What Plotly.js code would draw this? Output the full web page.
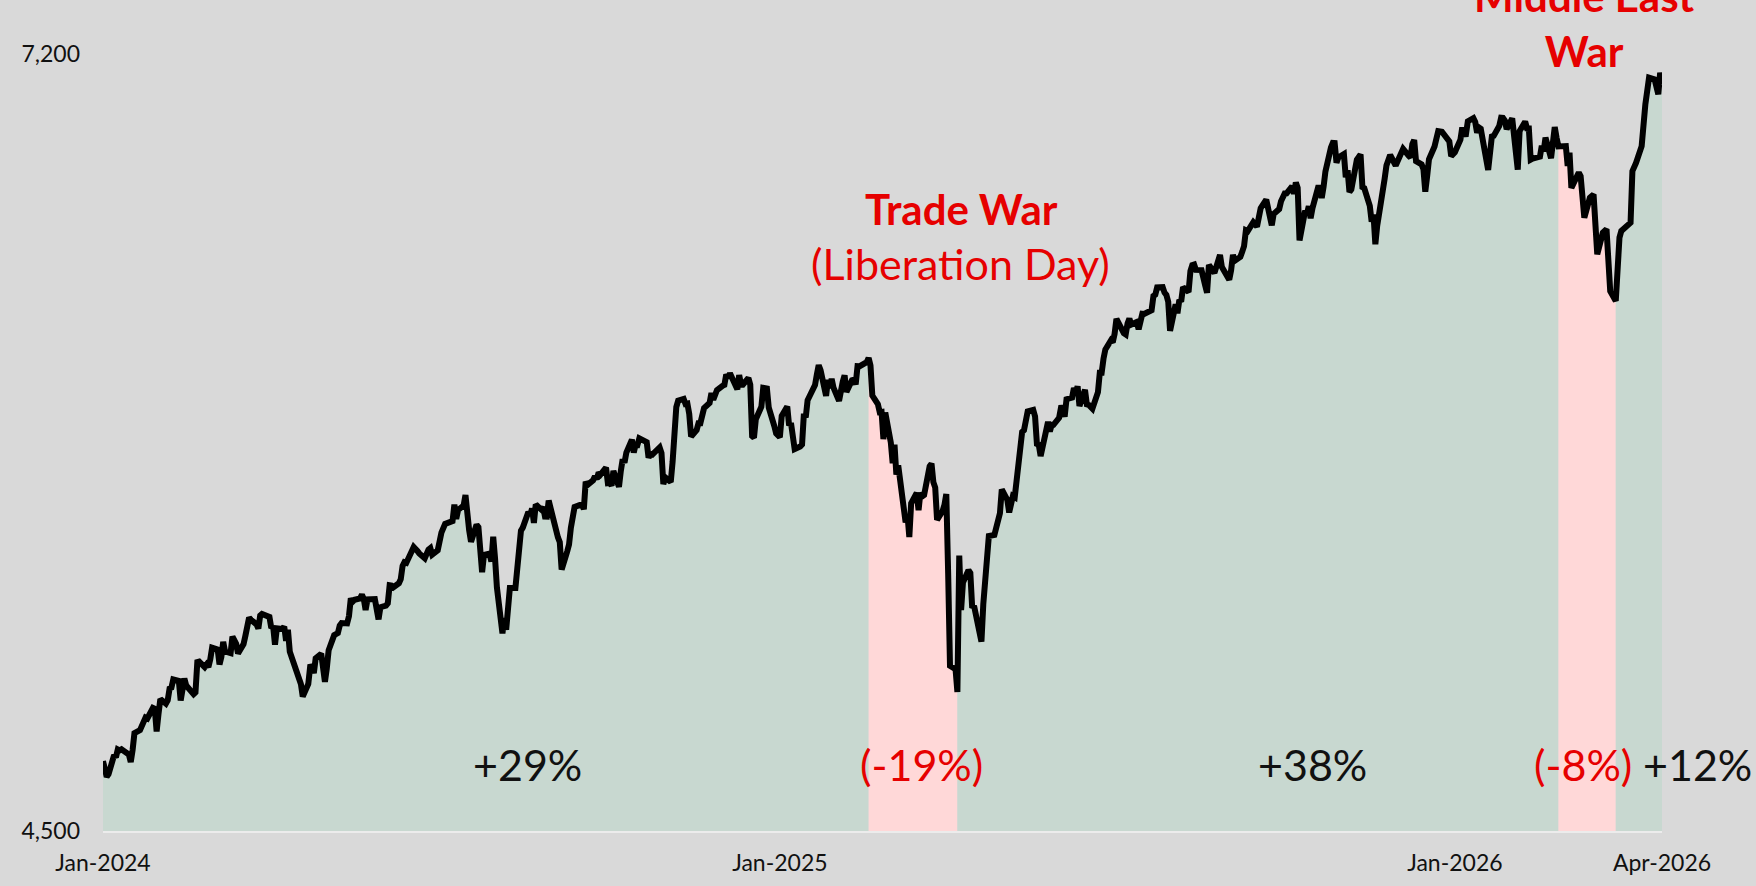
<!DOCTYPE html>
<html>
<head>
<meta charset="utf-8">
<script src="https://cdn.plot.ly/plotly-3.0.1.min.js"></script>
<style>
  html, body { margin: 0; padding: 0; background: #d9d9d9; }
  #chart { width: 1756px; height: 886px; }
</style>
</head>
<body>
<div id="chart"></div>
<script>
// ---------------- DATA ----------------
// S&P 500 daily closes (MMDD per year)
const days2024 = [
 '0102','0103','0104','0105','0108','0109','0110','0111','0112','0116','0117','0118','0119','0122','0123','0124','0125','0126','0129','0130','0131',
 '0201','0202','0205','0206','0207','0208','0209','0212','0213','0214','0215','0216','0220','0221','0222','0223','0226','0227','0228','0229',
 '0301','0304','0305','0306','0307','0308','0311','0312','0313','0314','0315','0318','0319','0320','0321','0322','0325','0326','0327','0328',
 '0401','0402','0403','0404','0405','0408','0409','0410','0411','0412','0415','0416','0417','0418','0419','0422','0423','0424','0425','0426','0429','0430',
 '0501','0502','0503','0506','0507','0508','0509','0510','0513','0514','0515','0516','0517','0520','0521','0522','0523','0524','0528','0529','0530','0531',
 '0603','0604','0605','0606','0607','0610','0611','0612','0613','0614','0617','0618','0620','0621','0624','0625','0626','0627','0628',
 '0701','0702','0703','0705','0708','0709','0710','0711','0712','0715','0716','0717','0718','0719','0722','0723','0724','0725','0726','0729','0730','0731',
 '0801','0802','0805','0806','0807','0808','0809','0812','0813','0814','0815','0816','0819','0820','0821','0822','0823','0826','0827','0828','0829','0830',
 '0903','0904','0905','0906','0909','0910','0911','0912','0913','0916','0917','0918','0919','0920','0923','0924','0925','0926','0927','0930',
 '1001','1002','1003','1004','1007','1008','1009','1010','1011','1014','1015','1016','1017','1018','1021','1022','1023','1024','1025','1028','1029','1030','1031',
 '1101','1104','1105','1106','1107','1108','1111','1112','1113','1114','1115','1118','1119','1120','1121','1122','1125','1126','1127','1129',
 '1202','1203','1204','1205','1206','1209','1210','1211','1212','1213','1216','1217','1218','1219','1220','1223','1224','1226','1227','1230','1231'
];
const close2024 = [
 4742.83,4704.81,4688.68,4697.24,4763.54,4756.50,4783.45,4780.24,4783.83,4765.98,4739.21,4780.94,4839.81,4850.43,4864.60,4868.55,4894.16,4890.97,4927.93,4924.97,4845.65,
 4906.19,4958.61,4942.81,4954.23,4995.06,4997.91,5026.61,5021.84,4953.17,5000.62,5029.73,5005.57,4975.51,4981.80,5087.03,5088.80,5069.53,5078.18,5069.76,5096.27,
 5137.08,5130.95,5078.65,5104.76,5157.36,5123.69,5117.94,5175.27,5165.31,5150.48,5117.09,5149.42,5178.51,5224.62,5241.53,5234.18,5218.19,5203.58,5248.49,5254.35,
 5243.77,5205.81,5211.49,5147.21,5204.34,5202.39,5209.91,5160.64,5199.06,5123.41,5061.82,5051.41,5022.21,5011.12,4967.23,5010.60,5070.55,5071.63,5048.42,5099.96,5116.17,5035.69,
 5018.39,5064.20,5127.79,5180.74,5187.70,5187.67,5214.08,5222.68,5221.42,5246.68,5308.15,5297.10,5303.27,5308.13,5321.41,5307.01,5267.84,5304.72,5306.04,5266.95,5235.48,5277.51,
 5283.40,5291.34,5354.03,5352.96,5346.99,5360.79,5375.32,5421.03,5433.74,5431.60,5473.23,5487.03,5473.17,5464.62,5447.87,5469.30,5477.90,5482.87,5460.48,
 5475.09,5509.01,5537.02,5567.19,5572.85,5576.98,5633.91,5584.54,5615.35,5631.22,5667.20,5588.27,5544.59,5505.00,5564.41,5555.74,5427.13,5399.22,5459.10,5463.54,5436.44,5522.30,
 5446.68,5346.56,5186.33,5240.03,5199.50,5319.31,5344.16,5344.39,5434.43,5455.21,5543.22,5554.25,5608.25,5597.12,5620.85,5570.64,5634.61,5616.84,5625.80,5592.18,5591.96,5648.40,
 5528.93,5520.07,5503.41,5408.42,5471.05,5495.52,5554.13,5595.76,5626.02,5633.09,5634.58,5618.26,5713.64,5702.55,5718.57,5732.93,5722.26,5745.37,5738.17,5762.48,
 5708.75,5709.54,5699.94,5751.07,5695.94,5751.13,5792.04,5780.05,5815.03,5859.85,5815.26,5842.47,5841.47,5864.67,5853.98,5851.20,5797.42,5809.86,5808.12,5823.52,5832.92,5813.67,5705.45,
 5728.80,5712.69,5782.76,5929.04,5973.10,5995.54,6001.35,5983.99,5985.38,5949.17,5870.62,5893.62,5916.98,5917.11,5948.71,5969.34,5987.37,6021.63,5998.74,6032.38,
 6047.15,6049.88,6086.49,6075.11,6090.27,6052.85,6034.91,6084.19,6051.25,6051.09,6074.08,6050.61,5872.16,5867.08,5930.85,5974.07,6040.04,6037.59,5970.84,5906.94,5881.63
];
const days2025 = [
 '0102','0103','0106','0107','0108','0110','0113','0114','0115','0116','0117','0121','0122','0123','0124','0127','0128','0129','0130','0131',
 '0203','0204','0205','0206','0207','0210','0211','0212','0213','0214','0218','0219','0220','0221','0224','0225','0226','0227','0228',
 '0303','0304','0305','0306','0307','0310','0311','0312','0313','0314','0317','0318','0319','0320','0321','0324','0325','0326','0327','0328','0331',
 '0401','0402','0403','0404','0407','0408','0409','0410','0411','0414','0415','0416','0417','0421','0422','0423','0424','0425','0428','0429','0430',
 '0501','0502','0505','0506','0507','0508','0509','0512','0513','0514','0515','0516','0519','0520','0521','0522','0523','0527','0528','0529','0530',
 '0602','0603','0604','0605','0606','0609','0610','0611','0612','0613','0616','0617','0618','0620','0623','0624','0625','0626','0627','0630',
 '0701','0702','0703','0707','0708','0709','0710','0711','0714','0715','0716','0717','0718','0721','0722','0723','0724','0725','0728','0729','0730','0731',
 '0801','0804','0805','0806','0807','0808','0811','0812','0813','0814','0815','0818','0819','0820','0821','0822','0825','0826','0827','0828','0829',
 '0902','0903','0904','0905','0908','0909','0910','0911','0912','0915','0916','0917','0918','0919','0922','0923','0924','0925','0926','0929','0930',
 '1001','1002','1003','1006','1007','1008','1009','1010','1013','1014','1015','1016','1017','1020','1021','1022','1023','1024','1027','1028','1029','1030','1031',
 '1103','1104','1105','1106','1107','1110','1111','1112','1113','1114','1117','1118','1119','1120','1121','1124','1125','1126','1128',
 '1201','1202','1203','1204','1205','1208','1209','1210','1211','1212','1215','1216','1217','1218','1219','1222','1223','1224','1226','1229','1230','1231'
];
const close2025 = [
 5868.55,5942.47,5975.38,5909.03,5918.25,5827.04,5836.22,5842.91,5949.91,5937.34,5996.66,6049.24,6086.37,6118.71,6101.24,6012.28,6067.70,6039.31,6071.17,6040.53,
 5994.57,6037.88,6061.48,6083.57,6025.99,6066.44,6068.50,6051.97,6115.07,6114.63,6129.58,6144.15,6117.52,6013.13,5983.25,5955.25,5956.06,5861.57,5954.50,
 5849.72,5778.15,5842.63,5738.52,5770.20,5614.56,5572.07,5599.30,5521.52,5638.94,5675.12,5614.66,5675.29,5662.89,5667.56,5767.57,5776.65,5712.20,5693.31,5580.94,5611.85,
 5633.07,5670.97,5396.52,5074.08,5062.25,4982.77,5456.90,5268.05,5363.36,5405.97,5396.63,5275.70,5282.70,5158.20,5287.76,5375.86,5484.77,5525.21,5528.75,5560.83,5569.06,
 5604.14,5686.67,5650.38,5606.91,5631.28,5663.94,5659.91,5844.19,5886.55,5892.58,5916.93,5958.38,5963.60,5940.46,5844.61,5842.01,5802.82,5921.54,5888.55,5912.17,5911.69,
 5935.94,5970.37,5970.81,5939.30,6000.36,6005.88,6038.81,6022.24,6045.26,5976.97,6033.11,5982.72,5980.87,5967.84,6025.17,6092.18,6092.16,6141.02,6173.07,6204.95,
 6198.01,6227.42,6279.35,6229.98,6225.52,6263.26,6280.46,6259.75,6268.56,6243.76,6263.70,6297.36,6296.79,6305.60,6309.62,6358.91,6363.35,6388.64,6389.77,6370.86,6362.90,6339.39,
 6238.01,6329.94,6299.19,6345.06,6340.00,6389.45,6373.45,6445.76,6466.58,6468.54,6449.80,6449.15,6411.37,6395.78,6370.17,6466.91,6439.32,6465.94,6481.40,6501.86,6460.26,
 6415.54,6448.26,6502.08,6481.50,6495.15,6512.61,6532.04,6587.47,6584.29,6615.28,6606.76,6600.35,6631.96,6664.36,6693.75,6656.92,6637.97,6604.72,6643.70,6661.21,6688.46,
 6711.20,6715.35,6715.79,6740.28,6714.59,6753.72,6735.11,6552.51,6654.72,6644.31,6671.06,6629.07,6664.01,6735.13,6735.35,6699.40,6738.44,6791.69,6875.16,6890.89,6890.59,6822.34,6840.20,
 6851.97,6771.55,6796.29,6720.32,6728.80,6832.43,6846.61,6850.92,6737.49,6734.11,6672.41,6617.32,6642.16,6538.76,6602.99,6705.12,6765.88,6812.61,6849.09,
 6812.63,6829.37,6849.72,6857.12,6870.40,6846.51,6840.51,6886.68,6901.00,6827.41,6816.51,6800.26,6721.43,6774.76,6834.50,6878.49,6909.79,6932.05,6929.94,6905.74,6896.24,6845.50
];
const days2026 = [
 '0102','0105','0106','0107','0108','0109','0112','0113','0114','0115','0116','0120','0121','0122','0123','0126','0127','0128','0129','0130',
 '0202','0203','0204','0205','0206','0209','0210','0211','0212','0213','0217','0218','0219','0220','0223','0224','0225','0226','0227',
 '0303','0304','0305','0306','0310','0311','0313','0316','0318','0319','0320','0323','0325','0327','0330',
 '0401','0402','0407','0408','0410','0413','0415','0417','0420','0421','0422','0423','0424'
];
const close2026 = [
 6858.47,6902.05,6944.82,6920.93,6921.46,6966.28,6977.27,6963.74,6926.60,6944.47,6940.01,6796.86,6875.62,6913.35,6915.61,6950.23,6978.60,6978.03,6969.01,6939.03,
 6976.44,6917.81,6882.72,6798.40,6932.30,6964.82,6941.81,6941.47,6832.76,6836.17,6843.22,6881.31,6861.89,6909.51,6837.75,6890.07,6946.13,6908.86,6878.88,
 6880,6811,6857,6735,6788,6776,6631,6701,6712,6608,6504,6579,6591,6376,6342,
 6562,6585,6614,6793,6822,6880,7025,7118,7112,7089,7060,7135,7094
];

// Shaded drawdown periods
const bandStarts = ['2025-02-19', '2026-02-27'];
const bandEnds   = ['2025-04-08', '2026-03-30'];

// Period labels
const periodLabels = ['+29%', '(-19%)', '+38%', '(-8%)', '+12%'];
const periodIsDrop = [false, true, false, true, false];

// Axis tick labels
const xTickLabels = ['Jan-2024', 'Jan-2025', 'Jan-2026', 'Apr-2026'];
const yTickValues = [4500, 7200];

// Event labels
const eventTitles = ['Trade War', 'Middle East<br>War'];
const eventSubtitles = ['(Liberation Day)', ''];

// ---------------- BUILD ----------------
function toDates(year, arr) { return arr.map(d => `${year}-${d.slice(0,2)}-${d.slice(2)}`); }
function pair(ds, vs) { const n = Math.min(ds.length, vs.length); return {d: ds.slice(0,n), v: vs.slice(0,n)}; }
const p24 = pair(toDates(2024, days2024), close2024);
const p25 = pair(toDates(2025, days2025), close2025);
const p26 = pair(toDates(2026, days2026), close2026);
const dates = [...p24.d, ...p25.d, ...p26.d];
const closes = [...p24.v, ...p25.v, ...p26.v];

const firstDate = dates[0];
const lastDate = dates[dates.length - 1];

const GREEN = '#c8d8d0';
const PINK = '#ffd8d8';
const RED = '#e60000';

const bounds = [firstDate, bandStarts[0], bandEnds[0], bandStarts[1], bandEnds[1], lastDate];
const traces = [];
for (let i = 0; i < bounds.length - 1; i++) {
  const xs = [], ys = [];
  dates.forEach((d, k) => { if (d >= bounds[i] && d <= bounds[i+1]) { xs.push(d); ys.push(closes[k]); } });
  traces.push({
    type: 'scatter', mode: 'lines', x: xs, y: ys,
    line: {width: 0, color: 'rgba(0,0,0,0)'},
    fill: 'tozeroy', fillcolor: (i % 2 === 1) ? PINK : GREEN,
    hoverinfo: 'skip', showlegend: false
  });
}
traces.push({
  type: 'scatter', mode: 'lines', x: dates, y: closes,
  line: {color: '#000000', width: 6},
  hoverinfo: 'skip', showlegend: false
});

const FONT = 'Lato, "Noto Sans", sans-serif';
const plotL = 103, plotR = 1662, plotT = 54, plotB = 831;
const px = (x) => (x - plotL) / (plotR - plotL);
const py = (y) => (plotB - y) / (plotB - plotT);

const labelX = [527, 921, 1312, 1583, 1697];
const annotations = periodLabels.map((t, i) => ({
  text: t, xref: 'paper', yref: 'paper', x: px(labelX[i]), y: py(764),
  xanchor: 'center', yanchor: 'middle', showarrow: false,
  font: {family: FONT, size: 43, color: periodIsDrop[i] ? RED : '#111111'}
}));
annotations.push({
  text: '<b>' + eventTitles[0] + '</b>', xref: 'paper', yref: 'paper', x: px(961), y: py(209),
  xanchor: 'center', yanchor: 'middle', showarrow: false,
  font: {family: FONT, size: 42, color: RED}
});
annotations.push({
  text: eventSubtitles[0], xref: 'paper', yref: 'paper', x: px(960), y: py(263),
  xanchor: 'center', yanchor: 'middle', showarrow: false,
  font: {family: FONT, size: 43, color: RED}
});
annotations.push({
  text: '<b>' + eventTitles[1] + '</b>', xref: 'paper', yref: 'paper', x: px(1584), y: py(50),
  xanchor: 'center', yanchor: 'middle', showarrow: false, yshift: 27,
  font: {family: FONT, size: 42, color: RED}
});

const layout = {
  width: 1756, height: 886,
  paper_bgcolor: '#d9d9d9', plot_bgcolor: '#d9d9d9',
  margin: {l: plotL, r: 1756 - plotR, t: plotT, b: 886 - plotB, pad: 0},
  showlegend: false,
  xaxis: {
    type: 'date', range: [firstDate, lastDate],
    tickmode: 'array',
    tickvals: [dates[0], p25.d[0], p26.d[0], lastDate],
    ticktext: xTickLabels,
    showgrid: false, zeroline: false,
    showline: true, linecolor: '#ececec', linewidth: 2,
    ticks: '', ticklabelstandoff: 10,
    tickfont: {family: FONT, size: 23, color: '#111111'}
  },
  yaxis: {
    range: [4500, 7200],
    tickmode: 'array', tickvals: yTickValues, tickformat: ',',
    showgrid: false, zeroline: false, showline: false,
    ticks: '', ticklabelstandoff: 22,
    tickfont: {family: FONT, size: 23, color: '#111111'}
  },
  annotations: annotations
};

Plotly.newPlot('chart', traces, layout, {displayModeBar: false, staticPlot: true});
</script>
</body>
</html>
